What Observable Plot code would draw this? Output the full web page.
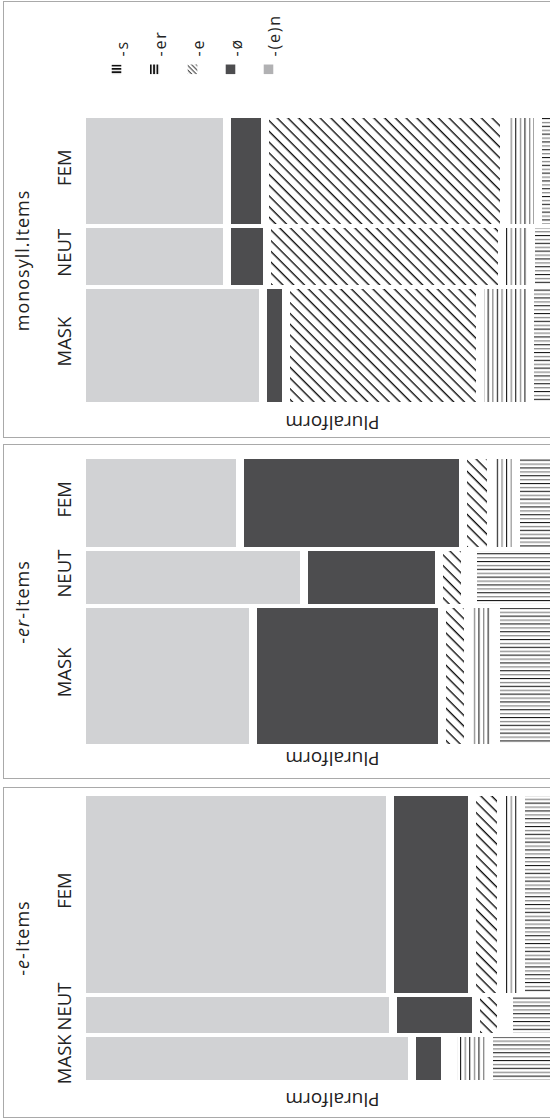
<!DOCTYPE html>
<html>
<head>
<meta charset="utf-8">
<script src="https://cdn.jsdelivr.net/npm/d3@7"></script>
<script src="https://cdn.jsdelivr.net/npm/@observablehq/plot@0.6"></script>
<style>
html, body { margin: 0; padding: 0; background: #fff; width: 550px; height: 1119px; overflow: hidden; }
#root { position: relative; width: 550px; height: 1119px; overflow: hidden; }
.layer { position: absolute; left: 0; }
.box { position: absolute; left: 3px; width: 600px; border: 1.5px solid #a9a9a9; box-sizing: border-box; pointer-events: none; }
svg.plotsvg { max-width: none !important; background: none !important; }
</style>
</head>
<body>
<svg width="0" height="0" style="position:absolute;left:0;top:0">
  <defs>
    <pattern id="pat-e" patternUnits="userSpaceOnUse" width="10" height="7.6" patternTransform="rotate(45)">
      <rect x="0" y="0" width="10" height="1.4" fill="#111"/>
    </pattern>
    <pattern id="pat-s" patternUnits="userSpaceOnUse" width="9.2" height="10">
      <rect x="0" y="0" width="1.1" height="10" fill="#1a1a1a"/>
      <rect x="4.6" y="0" width="1.3" height="10" fill="#8c8c8c"/>
    </pattern>
    <pattern id="pat-er" patternUnits="userSpaceOnUse" width="10" height="7.8">
      <rect x="0" y="0" width="10" height="1.1" fill="#1a1a1a"/>
      <rect x="0" y="3.9" width="10" height="1.3" fill="#8c8c8c"/>
    </pattern>
    <pattern id="leg-s" patternUnits="userSpaceOnUse" x="-5" y="-4.6" width="10" height="3.3">
      <rect x="0" y="0" width="10" height="1.8" fill="#111"/>
    </pattern>
    <pattern id="leg-er" patternUnits="userSpaceOnUse" x="-4.6" y="-5" width="3.3" height="10">
      <rect x="0" y="0" width="1.8" height="10" fill="#111"/>
    </pattern>
    <pattern id="leg-e" patternUnits="userSpaceOnUse" width="10" height="3.3" patternTransform="rotate(45)">
      <rect x="0" y="0" width="10" height="1.2" fill="#555"/>
    </pattern>
  </defs>
</svg>
<div id="root"></div>
<script>
// ---------------- data ----------------
const forms = ["-(e)n", "-ø", "-e", "-s", "-er"];
const genders = ["FEM", "NEUT", "MASK"];
const panelTitles = ["monosyll.Items", "-er-Items", "-e-Items"];
const titleItalic = ["", "er", "e"];
const xLabel = "Pluralform";
const legendOrder = ["-s", "-er", "-e", "-ø", "-(e)n"];

// share of items per gender (row heights, %)
const monoGender = [38.4, 20.5, 41.1];
const erGender = [31.6, 19.2, 49.2];
const eGender = [71.4, 13.1, 15.5];

// plural-form shares within each gender row (%), in the order of `forms`
const monoFEM = [29.8, 6.5, 50.2, 5.7, 7.8];
const monoNEUT = [29.8, 7.0, 49.3, 4.6, 9.3];
const monoMASK = [37.6, 3.3, 40.4, 9.1, 9.6];
const erFEM = [32.6, 46.7, 4.3, 3.7, 12.7];
const erNEUT = [46.5, 27.6, 3.9, 0, 22.0];
const erMASK = [35.4, 39.3, 4.1, 4.3, 16.9];
const eFEM = [65.2, 16.1, 4.6, 2.6, 11.5];
const eNEUT = [65.9, 16.3, 3.7, 0, 14.1];
const eMASK = [70.0, 5.4, 0, 6.1, 18.5];

// ---------------- styling / layout ----------------
const formFill = {
  "-(e)n": "#d1d2d4",
  "-ø": "#4d4d4f",
  "-e": "url(#pat-e)",
  "-s": "url(#pat-s)",
  "-er": "url(#pat-er)"
};
const legendFill = {
  "-s": "url(#leg-s)",
  "-er": "url(#leg-er)",
  "-e": "url(#leg-e)",
  "-ø": "#4d4d4f",
  "-(e)n": "#b1b1b3"
};
const FONT = "'Open Sans', 'Noto Sans', sans-serif";
const INK = "#222";
const X0 = 86, X1 = 578;     // mosaic extends past the right edge of the page
const GX = 8, GY = 4;        // gaps between tiles (px)

const panels = [
  {title: 0, gender: monoGender, rows: [monoFEM, monoNEUT, monoMASK], top: 1, height: 437, rowsTop: 118.3, rowsBottom: 401.7, xlabDy: 19.5},
  {title: 1, gender: erGender, rows: [erFEM, erNEUT, erMASK], top: 444, height: 335, rowsTop: 459, rowsBottom: 744, xlabDy: 14},
  {title: 2, gender: eGender, rows: [eFEM, eNEUT, eMASK], top: 786.5, height: 331.5, rowsTop: 795, rowsBottom: 1079, xlabDy: 19}
];

const root = document.getElementById("root");
const ctx = document.createElement("canvas").getContext("2d");
ctx.font = "18.5px 'Open Sans'";

panels.forEach((p) => {
  const spanY = p.rowsBottom - p.rowsTop;
  const gx = GX / (X1 - X0), gy = GY / spanY;
  const gTot = d3.sum(p.gender);
  const rows = [];
  let yc = 0;
  genders.forEach((g, i) => {
    const h = p.gender[i] / gTot * (1 - 2 * gy);
    const y1 = yc + i * gy;
    rows.push({gender: g, y1, y2: y1 + h});
    yc += h;
  });
  const cells = [];
  rows.forEach((r, i) => {
    const vals = p.rows[i];
    const tot = d3.sum(vals);
    let xc = 0;
    forms.forEach((f, j) => {
      const w = vals[j] / tot * (1 - 4 * gx);
      const x1 = xc + j * gx;
      cells.push({form: f, gender: r.gender, value: vals[j], x1, x2: x1 + w, y1: r.y1, y2: r.y2});
      xc += w;
    });
  });

  // row labels, centred on rows and pushed apart where they would overlap
  const labels = rows.map(r => ({gender: r.gender, c: (r.y1 + r.y2) / 2 * spanY - 4, h: ctx.measureText(r.gender).width / 2}));
  for (let it = 0; it < 40; it++) {
    for (let i = 0; i < labels.length - 1; i++) {
      const a = labels[i], b = labels[i + 1];
      const need = a.h + b.h + 4 - (b.c - a.c);
      if (need > 0) { a.c -= need / 2; b.c += need / 2; }
    }
  }
  labels.forEach(l => l.y = l.c / spanY);

  const marks = forms.map(f => Plot.rect(cells.filter(d => d.form === f && d.value > 0), {
    x1: "x1", x2: "x2", y1: "y1", y2: "y2", fill: formFill[f], shapeRendering: "crispEdges"
  }));
  marks.push(Plot.text([panelTitles[p.title]], {x: 0, y: 0.5, dx: -63, rotate: -90, fontSize: 18, fill: INK}));
  marks.push(Plot.text(labels, {x: 0, y: "y", text: "gender", dx: -21, rotate: -90, fontSize: 18.5, fill: INK}));
  marks.push(Plot.text([xLabel], {x: 0.5, y: 1, dy: p.xlabDy, rotate: 180, fontSize: 19, fill: INK}));

  const svg = Plot.plot({
    width: 550,
    height: p.height,
    x: {domain: [0, 1], range: [X0, X1], axis: null},
    y: {domain: [0, 1], range: [p.rowsTop - p.top, p.rowsBottom - p.top], axis: null},
    style: {fontFamily: FONT, background: "none"},
    marks
  });
  svg.classList.add("plotsvg");
  const title = panelTitles[p.title];
  svg.querySelectorAll("text").forEach(el => {
    if (el.textContent !== title) return;
    el.setAttribute("letter-spacing", "1px");
    el.style.letterSpacing = "1px";
    const it = titleItalic[p.title];
    if (it) {
      const i0 = title.indexOf(it);
      el.textContent = "";
      [[title.slice(0, i0), false], [it, true], [title.slice(i0 + it.length), false]].forEach(([s, ital]) => {
        const ts = document.createElementNS("http://www.w3.org/2000/svg", "tspan");
        ts.textContent = s;
        if (ital) ts.setAttribute("font-style", "italic");
        el.appendChild(ts);
      });
    }
  });
  const wrap = document.createElement("div");
  wrap.className = "layer";
  wrap.style.top = p.top + "px";
  wrap.appendChild(svg);
  root.appendChild(wrap);

  const box = document.createElement("div");
  box.className = "box";
  box.style.top = p.top + "px";
  box.style.height = p.height + "px";
  root.appendChild(box);
});

// legend (inside the first panel)
const legend = Plot.plot({
  width: 550,
  height: 100,
  margin: 0,
  x: {type: "point", padding: 0, domain: legendOrder, range: [114, 269], axis: null},
  style: {fontFamily: FONT, background: "none"},
  marks: [
    ...legendOrder.map(f => Plot.dot([f], {x: d => d, frameAnchor: "top", dy: 68.8, symbol: "square", r: 5.4, fill: legendFill[f], stroke: "none"})),
    Plot.text(legendOrder, {x: d => d, frameAnchor: "top", dy: 56, rotate: -90, textAnchor: "start", fontSize: 16, fill: INK})
  ]
});
legend.classList.add("plotsvg");
legend.querySelectorAll("text").forEach(el => {
  if (legendOrder.includes(el.textContent)) {
    el.setAttribute("letter-spacing", "1.8px");
    el.style.letterSpacing = "1.8px";
  }
});
const lw = document.createElement("div");
lw.className = "layer";
lw.style.top = "0px";
lw.appendChild(legend);
root.appendChild(lw);
</script>
</body>
</html>
